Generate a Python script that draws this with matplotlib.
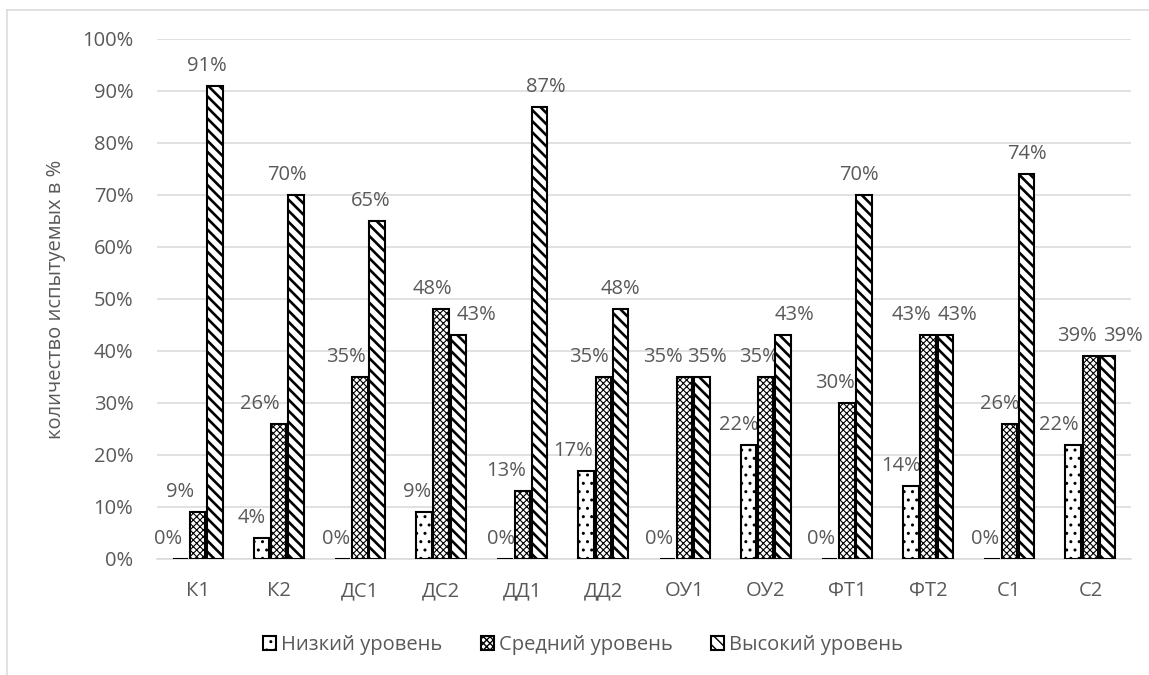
import matplotlib as mpl
import matplotlib.pyplot as plt
import numpy as np
from matplotlib.ticker import PercentFormatter

plt.rcParams['font.family'] = ['Open Sans', 'DejaVu Sans']

groups = ['К1', 'К2', 'ДС1', 'ДС2', 'ДД1', 'ДД2', 'ОУ1', 'ОУ2', 'ФТ1', 'ФТ2', 'С1', 'С2']
low_level = [0, 4, 0, 9, 0, 17, 0, 22, 0, 14, 0, 22]
mid_level = [9, 26, 35, 48, 13, 35, 35, 35, 30, 43, 26, 39]
high_level = [91, 70, 65, 43, 87, 48, 35, 43, 70, 43, 74, 39]
series_names = ['Низкий уровень', 'Средний уровень', 'Высокий уровень']

# horizontal nudges of the value labels (pixels), so neighbouring labels don't collide
label_dx = [
    [-12, -10, -7, -7, -4, -13, -8, -10, -9, -10, -7, -14],
    [-18, -19, -14, -9, -16, -14, -22, -7, -12, -17, -9, -13],
    [-8, -9, -6, 18, 6, 0, 5, 12, -5, 12, 0, 15],
]

text_color = '#595959'
grid_color = '#d9d9d9'
fs = 14.5

W, H = 1149, 675
fig = plt.figure(figsize=(W / 100, H / 100), dpi=100)
ax = fig.add_axes([157 / W, (H - 559) / H, 974 / W, 520 / H])

x = np.arange(len(groups))
step = 0.212
width = 0.19
styles = [('..', 1.0), ('xxxxx', 0.8), ('\\\\\\', 1.9)]

handles = []
for i, (vals, name, (hatch, hlw)) in enumerate(zip([low_level, mid_level, high_level],
                                                   series_names, styles)):
    pos = x + (i - 1) * step
    with mpl.rc_context({'hatch.linewidth': hlw}):
        bars = ax.bar(pos, vals, width, color='white', edgecolor='black',
                      linewidth=1.5, hatch=hatch, label=name, zorder=3)
        for b in bars:
            if hasattr(b, 'set_hatch_linewidth'):
                b.set_hatch_linewidth(hlw)
    handles.append(bars)
    for b, v, dx in zip(bars, vals, label_dx[i]):
        ax.annotate(f'{v}%', (b.get_x() + b.get_width() / 2, v),
                    xytext=(dx, 15), textcoords='offset pixels',
                    ha='center', va='baseline', fontsize=fs, color=text_color)

ax.set_xlim(-0.5, len(groups) - 0.5)
ax.set_ylim(0, 100)
ax.set_yticks(np.arange(0, 101, 10))
ax.yaxis.set_major_formatter(PercentFormatter(decimals=0))
ax.set_xticks(x)
ax.set_xticklabels(groups)
ax.tick_params(axis='both', length=0, labelsize=fs, labelcolor=text_color)
ax.tick_params(axis='x', pad=16)
ax.tick_params(axis='y', pad=17)
ax.grid(axis='y', color=grid_color, linewidth=1.1, zorder=0)
for side in ['top', 'right', 'left']:
    ax.spines[side].set_visible(False)
ax.spines['bottom'].set_color(grid_color)
ax.spines['bottom'].set_linewidth(1.1)

ax.set_ylabel('количество испытуемых в %', fontsize=fs, color=text_color)
ax.yaxis.set_label_coords((56 - 157) / 974, 0.5)
ax.yaxis.label.set_verticalalignment('center')

fig.legend(handles=handles, labels=series_names, loc='center',
           bbox_to_anchor=(583 / W, 1 - 645 / H), ncol=3, frameon=False,
           fontsize=fs, labelcolor=text_color, handlelength=0.65, handleheight=0.65,
           handletextpad=0.25, columnspacing=1.9)

# thin chart frame on the left and top
fig.add_artist(plt.Line2D([7 / W, 7 / W], [0, 1 - 10 / H], color=grid_color, linewidth=1.1))
fig.add_artist(plt.Line2D([7 / W, 1], [1 - 10 / H, 1 - 10 / H], color=grid_color, linewidth=1.1))

fig.savefig('out.png', dpi=100)
